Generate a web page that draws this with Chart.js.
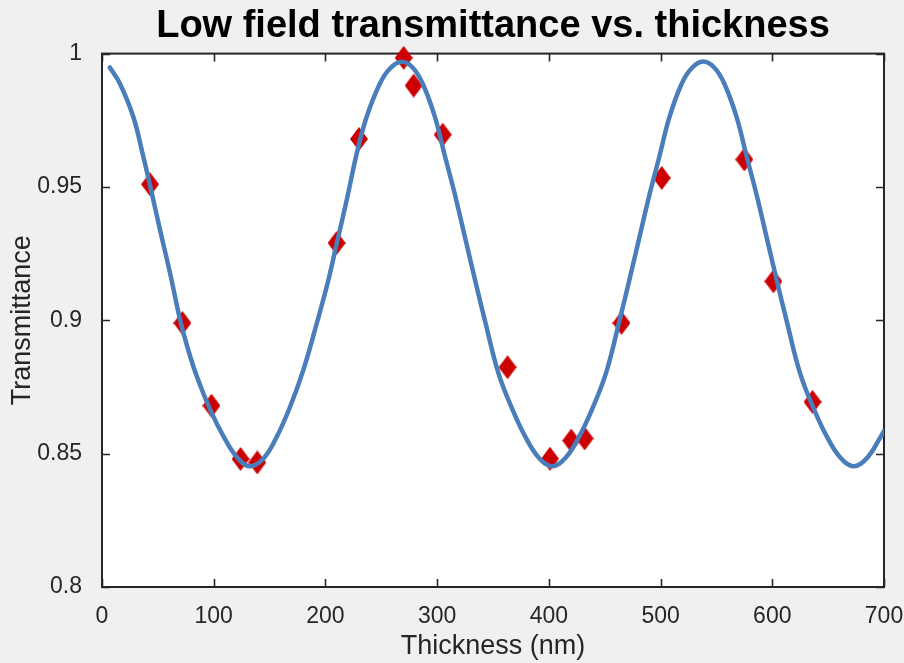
<!DOCTYPE html>
<html>
<head>
<meta charset="utf-8">
<script src="https://cdn.jsdelivr.net/npm/chart.js@4.4.1/dist/chart.umd.min.js"></script>
<style>
  html, body { margin: 0; padding: 0; background: #f0f0f0; }
  #c { display: block; }
</style>
</head>
<body>
<canvas id="c" width="904" height="663"></canvas>
<script>
// ---- data ----
const measuredThickness = [43, 72, 98, 124, 139, 210, 230, 270, 279, 305, 363, 401, 420, 432, 465, 501, 575, 601, 636];
const measuredTransmittance = [0.951, 0.899, 0.868, 0.848, 0.8467, 0.929, 0.968, 0.9984, 0.988, 0.9696, 0.8824, 0.8481, 0.8549, 0.8557, 0.899, 0.9534, 0.9603, 0.9146, 0.8694];

const fitThickness = [
  7, 16, 28, 37, 43, 52, 61, 70, 76.4, 85, 97, 109, 120.5, 132,
  144.4, 156.4, 168.3, 180.2, 192.2, 202.6, 210.1, 219, 228, 236.9, 248.8, 257.8, 268,
  278, 287, 298, 307, 316, 325, 334, 343, 355, 367, 379, 391, 403,
  415, 427, 439, 451, 463, 472, 481, 490, 499, 508, 519, 528, 538,
  548, 557, 568, 577, 586, 595, 604, 613, 625, 637, 649, 661, 673,
  685, 697, 700
];
const fitTransmittance = [
  0.9948, 0.9888, 0.9763, 0.9613, 0.9506, 0.9338, 0.9175, 0.900, 0.890, 0.8788, 0.8663, 0.8563, 0.8488, 0.8453,
  0.8481, 0.8563, 0.8675, 0.8813, 0.8988, 0.915, 0.9288, 0.945, 0.9625, 0.9763, 0.9888, 0.9944, 0.9969,
  0.9948, 0.9888, 0.9763, 0.9615, 0.947, 0.931, 0.915, 0.8995, 0.880, 0.867, 0.8563, 0.8485, 0.8453,
  0.8485, 0.8563, 0.867, 0.880, 0.8995, 0.915, 0.931, 0.947, 0.9615, 0.9763, 0.9888, 0.9946, 0.997,
  0.9948, 0.9888, 0.9763, 0.9615, 0.947, 0.931, 0.915, 0.8995, 0.880, 0.867, 0.8563, 0.8485, 0.8453,
  0.8485, 0.8563, 0.8585
];

const xTickValues = [0, 100, 200, 300, 400, 500, 600, 700];
const xTickLabels = ['0', '100', '200', '300', '400', '500', '600', '700'];
const yTickValues = [0.8, 0.85, 0.9, 0.95, 1];
const yTickLabels = ['0.8', '0.85', '0.9', '0.95', '1'];

const titleText = 'Low field transmittance vs. thickness';
const xTitle = 'Thickness (nm)';
const yTitle = 'Transmittance';

// ---- styling ----
const axisColor = '#262626';
const lineColor = 'rgb(74,126,187)';
const markerColor = '#cc0000';
const fontFamily = "'Liberation Sans', Arial, Helvetica, sans-serif";

function diamond(w, h, color) {
  const c = document.createElement('canvas');
  c.width = w; c.height = h;
  const g = c.getContext('2d');
  g.fillStyle = color;
  g.beginPath();
  g.moveTo(w / 2, 0);
  g.lineTo(w, h / 2);
  g.lineTo(w / 2, h);
  g.lineTo(0, h / 2);
  g.closePath();
  g.fill();
  return c;
}
const diamondImg = diamond(18, 24, markerColor);

const fitPoints = fitThickness.map((x, i) => ({ x, y: fitTransmittance[i] }));
const measuredPoints = measuredThickness.map((x, i) => ({ x, y: measuredTransmittance[i] }));

const boxPlugin = {
  id: 'boxPlugin',
  beforeDraw(chart) {
    const { ctx, chartArea: a } = chart;
    ctx.save();
    ctx.fillStyle = '#f0f0f0';
    ctx.fillRect(0, 0, chart.width, chart.height);
    ctx.fillStyle = '#ffffff';
    ctx.fillRect(a.left, a.top, a.right - a.left, a.bottom - a.top);
    ctx.restore();
  },
  beforeDatasetsDraw(chart) {
    const { ctx, chartArea: a, scales } = chart;
    const x = scales.x, y = scales.y;
    const tl = 8;
    ctx.save();
    ctx.strokeStyle = axisColor;
    ctx.lineWidth = 1.6;
    ctx.beginPath();
    x.ticks.forEach(t => {
      const px = Math.round(x.getPixelForValue(t.value)) + 0.5;
      ctx.moveTo(px, a.bottom); ctx.lineTo(px, a.bottom - tl);
      ctx.moveTo(px, a.top); ctx.lineTo(px, a.top + tl);
    });
    y.ticks.forEach(t => {
      const py = Math.round(y.getPixelForValue(t.value)) + 0.5;
      ctx.moveTo(a.left, py); ctx.lineTo(a.left + tl, py);
      ctx.moveTo(a.right, py); ctx.lineTo(a.right - tl, py);
    });
    ctx.stroke();
    ctx.lineWidth = 2;
    ctx.strokeRect(a.left, a.top, a.right - a.left, a.bottom - a.top);
    ctx.restore();
  }
};

new Chart(document.getElementById('c'), {
  type: 'scatter',
  data: {
    datasets: [
      {
        type: 'line',
        data: fitPoints,
        borderColor: lineColor,
        borderWidth: 4.5,
        borderCapStyle: 'round',
        borderJoinStyle: 'round',
        pointRadius: 0,
        tension: 0.4,
        fill: false,
        order: 0
      },
      {
        type: 'scatter',
        data: measuredPoints,
        pointStyle: diamondImg,
        pointRadius: 10,
        backgroundColor: markerColor,
        borderColor: markerColor,
        clip: false,
        order: 1
      }
    ]
  },
  options: {
    responsive: false,
    animation: false,
    devicePixelRatio: 1,
    layout: { padding: { left: 0, right: 20, top: 0, bottom: 0 } },
    plugins: {
      legend: { display: false },
      tooltip: { enabled: false },
      title: {
        display: true,
        fullSize: false,
        text: titleText,
        color: '#000000',
        font: { family: fontFamily, size: 38, weight: 'bold', lineHeight: 1.2 },
        padding: { top: 4, bottom: 4 }
      }
    },
    scales: {
      x: {
        type: 'linear',
        min: 0, max: 700,
        afterBuildTicks(s) { s.ticks = xTickValues.map(v => ({ value: v })); },
        afterFit(s) { s.height = 76; s.paddingRight = 0; s.paddingLeft = 0; },
        ticks: {
          color: axisColor,
          font: { family: fontFamily, size: 23 },
          padding: 8,
          maxRotation: 0,
          callback: (v, i) => xTickLabels[i]
        },
        grid: { display: false },
        border: { display: false },
        title: {
          display: true,
          text: xTitle,
          color: axisColor,
          font: { family: fontFamily, size: 27 },
          padding: { top: 0, bottom: 0 }
        }
      },
      y: {
        type: 'linear',
        min: 0.8, max: 1,
        afterBuildTicks(s) { s.ticks = yTickValues.map(v => ({ value: v })); },
        afterFit(s) { s.width = 102; },
        ticks: {
          color: axisColor,
          font: { family: fontFamily, size: 23 },
          padding: 12,
          callback: (v, i) => yTickLabels[i]
        },
        grid: { display: false },
        border: { display: false },
        title: {
          display: true,
          text: yTitle,
          color: axisColor,
          font: { family: fontFamily, size: 27 },
          padding: { top: 6, bottom: 0 }
        }
      }
    }
  },
  plugins: [boxPlugin]
});
</script>
</body>
</html>
